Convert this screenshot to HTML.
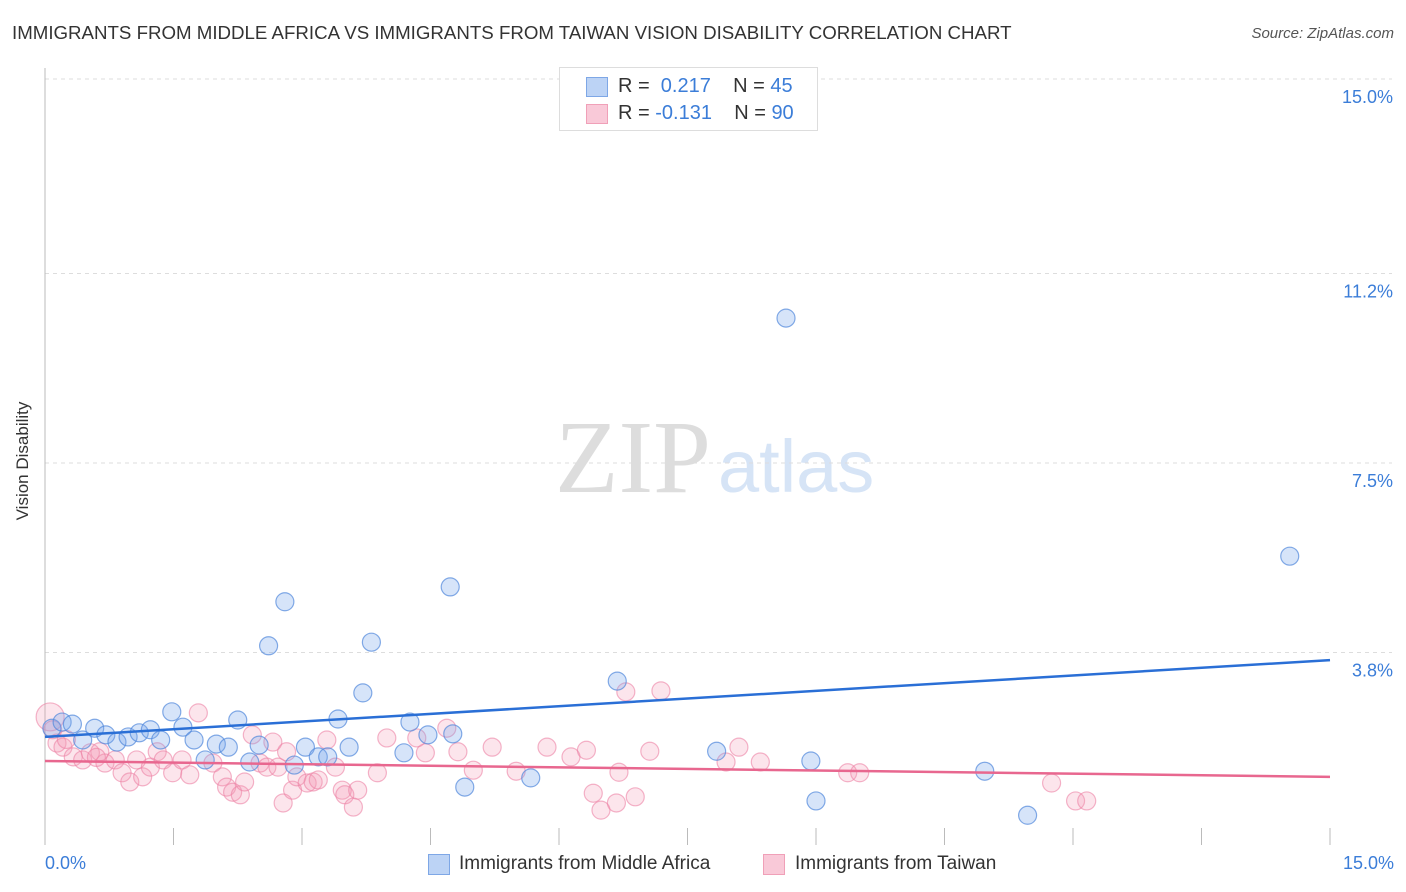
<!DOCTYPE html>
<html><head><meta charset="utf-8"><style>
body{margin:0;background:#fff;font-family:"Liberation Sans",sans-serif;}
#wrap{position:relative;width:1406px;height:892px;overflow:hidden;}
.t{position:absolute;white-space:nowrap;}
</style></head><body>
<div id="wrap">
<div class="t" style="left:12px;top:22px;font-size:18.7px;color:#333;">IMMIGRANTS FROM MIDDLE AFRICA VS IMMIGRANTS FROM TAIWAN VISION DISABILITY CORRELATION CHART</div>
<div class="t" style="right:12px;top:25px;font-size:15px;color:#555;font-style:italic;">Source: ZipAtlas.com</div>
<svg id="svg" width="1406" height="892" style="position:absolute;left:0;top:0">
<text x="555" y="492" font-family="Liberation Serif,serif" font-size="104" fill="#ddd">ZIP</text>
<text x="718" y="492" font-family="Liberation Sans,sans-serif" font-size="74" fill="#d6e4f6">atlas</text>
<text x="22" y="455" transform="rotate(-90 28 455)" font-size="17" fill="#333" text-anchor="middle">Vision Disability</text>
<g id="grid"></g><g id="marks"></g><g id="lines"></g>
</svg>
<div style="position:absolute;left:559px;top:67px;width:257px;height:62px;border:1px solid #ddd;background:#fff;font-size:20px;color:#333;">
 <div style="position:absolute;left:26px;top:9px;width:20px;height:18px;background:#bcd3f5;border:1px solid #7ea7e6;"></div>
 <div class="t" style="left:58px;top:7px;">R = <span style="color:#3b7dd8">&nbsp;0.217</span>&nbsp;&nbsp;&nbsp; N = <span style="color:#3b7dd8">45</span></div>
 <div style="position:absolute;left:26px;top:36px;width:20px;height:18px;background:#f9c9d8;border:1px solid #f0a0b8;"></div>
 <div class="t" style="left:58px;top:34px;">R = <span style="color:#3b7dd8">-0.131</span>&nbsp;&nbsp;&nbsp; N = <span style="color:#3b7dd8">90</span></div>
</div>
<div class="t" style="left:45px;top:853px;font-size:18px;color:#3b7dd8;">0.0%</div>
<div class="t" style="right:12px;top:853px;font-size:18px;color:#3b7dd8;">15.0%</div>
<div style="position:absolute;left:428px;top:854px;width:20px;height:19px;background:#bcd3f5;border:1px solid #7ea7e6;"></div>
<div class="t" style="left:459px;top:853px;font-size:19px;color:#333;">Immigrants from Middle Africa</div>
<div style="position:absolute;left:763px;top:854px;width:20px;height:19px;background:#f9c9d8;border:1px solid #f0a0b8;"></div>
<div class="t" style="left:795px;top:853px;font-size:19px;color:#333;">Immigrants from Taiwan</div>
</div>
<script>
const yTicks=[15.0,11.2,7.5,3.8];
const yTickLabels=["15.0%","11.2%","7.5%","3.8%"];
const blueX=[0.08,0.20,0.32,0.44,0.58,0.71,0.84,0.97,1.10,1.23,1.35,1.48,1.61,1.74,1.87,2.00,2.14,2.25,2.39,2.50,2.61,2.80,2.91,3.04,3.19,3.30,3.42,3.55,3.71,3.81,4.19,4.26,4.47,4.73,4.76,4.90,5.67,6.68,7.84,8.65,8.94,9.00,10.97,11.47,14.53];
const blueY=[2.32,2.44,2.40,2.09,2.32,2.19,2.05,2.15,2.23,2.29,2.09,2.64,2.34,2.09,1.70,2.01,1.95,2.48,1.66,1.99,3.93,4.79,1.60,1.95,1.76,1.76,2.50,1.95,3.01,4.00,1.84,2.44,2.19,5.08,2.21,1.17,1.35,3.24,1.87,10.33,1.68,0.90,1.48,0.62,5.68];
const pinkX=[0.06,0.09,0.14,0.21,0.33,0.44,0.53,0.64,0.70,0.82,0.90,0.99,1.07,1.14,1.23,1.31,1.38,1.49,1.60,1.69,1.79,1.96,2.07,2.12,2.19,2.28,2.33,2.42,2.51,2.59,2.66,2.72,2.82,2.78,2.89,2.94,3.06,3.13,3.19,3.29,3.39,3.47,3.50,3.60,3.65,3.88,3.99,4.34,4.44,4.69,4.82,5.00,6.78,7.19,5.22,5.50,5.86,6.14,6.32,6.70,7.06,6.40,6.49,6.67,6.89,8.10,7.95,8.35,9.37,9.51,11.75,12.03,12.16,0.25,0.60];
const pinkY=[2.54,2.29,2.03,1.95,1.76,1.70,1.84,1.86,1.64,1.70,1.45,1.27,1.70,1.37,1.56,1.86,1.70,1.45,1.70,1.41,2.62,1.64,1.37,1.17,1.07,1.02,1.27,2.19,1.64,1.56,2.05,1.56,1.86,0.86,1.11,1.37,1.25,1.27,1.31,2.09,1.56,1.11,1.02,0.78,1.11,1.45,2.13,2.13,1.84,2.32,1.86,1.50,3.03,3.05,1.95,1.48,1.95,1.76,1.89,1.46,1.87,1.05,0.72,0.86,0.98,1.95,1.66,1.66,1.45,1.45,1.25,0.90,0.90,2.10,1.75];
const blueTrend=[2.15,3.65];
const pinkTrend=[1.68,1.37];
const xDomain=[0,15];
const NS="http://www.w3.org/2000/svg";
function sx(v){return 45+(v-xDomain[0])/(xDomain[1]-xDomain[0])*1285;}
function sy(v){return 847-v*51.2;}
function mk(tag,at,parent){const e=document.createElementNS(NS,tag);for(const k in at)e.setAttribute(k,at[k]);parent.appendChild(e);return e;}
const grid=document.getElementById('grid'),marks=document.getElementById('marks'),lines=document.getElementById('lines');
yTicks.forEach((t,i)=>{
 const g=mk('line',{x1:45,x2:1392,y1:sy(t),y2:sy(t),stroke:'#ddd','stroke-dasharray':'4,4'},grid);
 
 
 const tx=mk('text',{x:1393,y:sy(t)+24,'text-anchor':'end','font-size':18,fill:'#3b7dd8'},grid);
 tx.textContent=yTickLabels[i];
 
 
});
const ax=mk('line',{x1:45,x2:45,y1:68,y2:845,stroke:'#bbb'},grid);


for(let i=1;i<=10;i++){
 const tk=mk('line',{x1:sx(i*1.5),x2:sx(i*1.5),y1:828,y2:845,stroke:'#bbb'},grid);
 
 
}
pinkX.forEach((x,i)=>{
 const c=mk('circle',{cx:sx(x),cy:sy(pinkY[i]),r:i===0?14:9,fill:'rgba(244,150,180,0.25)',stroke:'rgba(236,130,165,0.6)','stroke-width':1.2},marks);
 
 
});
blueX.forEach((x,i)=>{
 const c=mk('circle',{cx:sx(x),cy:sy(blueY[i]),r:9,fill:'rgba(120,165,235,0.3)',stroke:'rgba(80,135,220,0.7)','stroke-width':1.2},marks);
 
 
});
const bl=mk('line',{x1:sx(xDomain[0]),x2:sx(xDomain[1]),y1:sy(blueTrend[0]),y2:sy(blueTrend[1]),stroke:'#2a6fd6','stroke-width':2.5},lines);


const pl=mk('line',{x1:sx(xDomain[0]),x2:sx(xDomain[1]),y1:sy(pinkTrend[0]),y2:sy(pinkTrend[1]),stroke:'#e8678f','stroke-width':2.5},lines);


</script>
</body></html>
